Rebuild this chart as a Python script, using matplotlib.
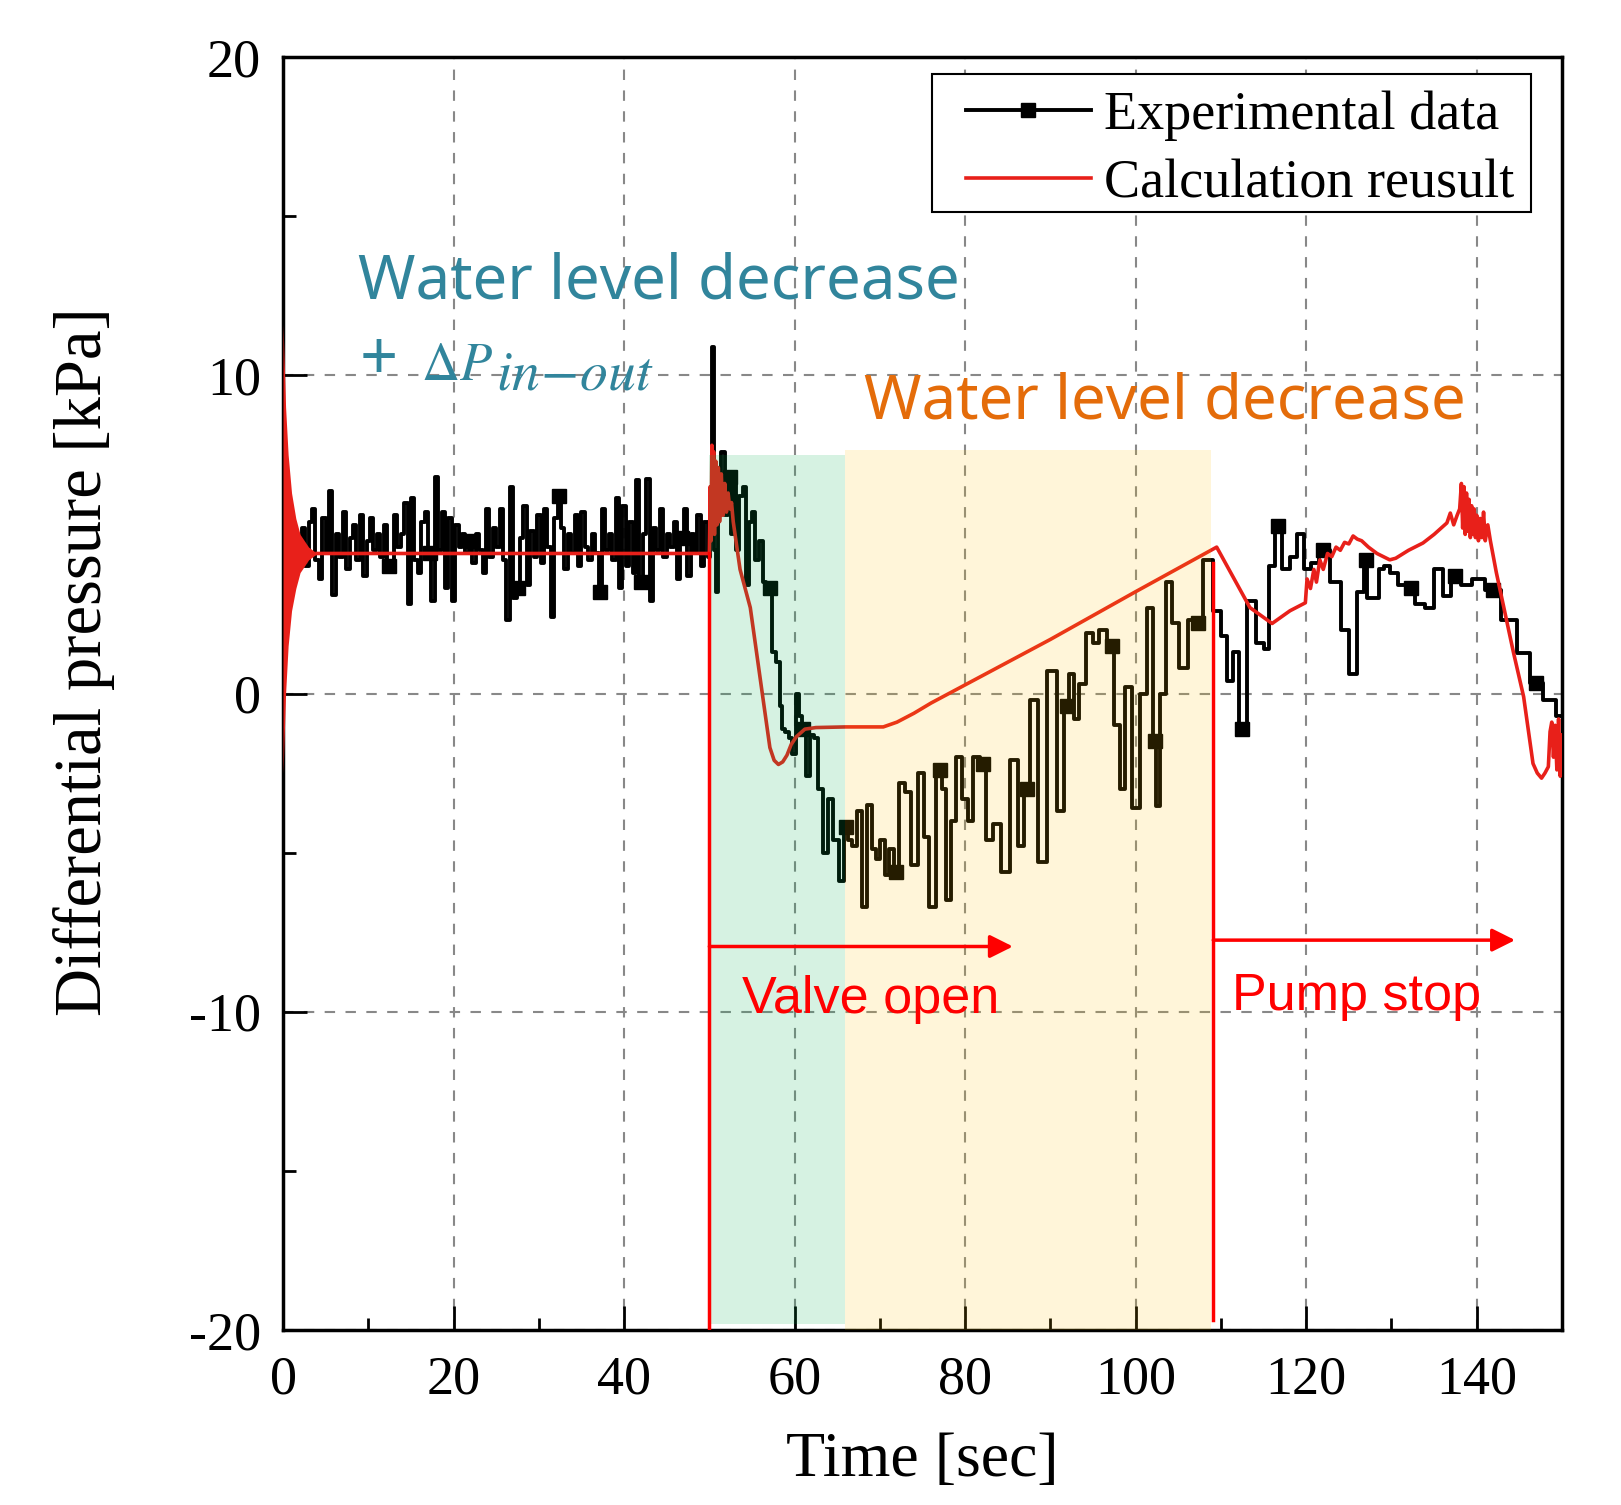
import numpy as np
import matplotlib
matplotlib.use('Agg')
import matplotlib.pyplot as plt
from matplotlib.patches import Rectangle
from matplotlib.ticker import MultipleLocator

# experimental data, noisy part before the valve opens (one sample every 0.4 s from t = 2 s)
exp_noise_start = 2.0
exp_noise_step = 0.4
exp_noise = [4.6, 5.2, 4.0, 5.4, 5.8, 4.2, 3.6, 5.5, 4.4, 6.35,
             3.1, 5.0, 4.3, 5.7, 3.9, 4.9, 5.3, 4.2, 5.6, 3.7,
             4.8, 5.5, 4.5, 5.0, 4.3, 5.3, 4.0, 4.1, 5.6, 4.6,
             5.0, 6.0, 2.8, 6.15, 4.2, 3.8, 5.4, 5.7, 4.4, 2.9,
             6.8, 4.5, 5.7, 3.3, 5.5, 2.9, 5.3, 4.6, 5.0, 4.4,
             4.8, 4.1, 5.0, 4.5, 3.8, 5.8, 4.3, 5.2, 4.6, 5.8,
             4.2, 2.3, 6.5, 3.0, 3.3, 4.9, 5.9, 3.4, 5.1, 4.3,
             5.6, 4.1, 5.8, 4.6, 2.4, 5.5, 6.2, 5.2, 3.9, 5.0,
             4.4, 5.6, 4.0, 5.7, 4.6, 4.2, 5.0, 4.4, 3.2, 5.8,
             4.5, 5.0, 4.2, 6.15, 3.3, 5.9, 4.0, 5.4, 3.8, 6.7,
             3.5, 5.0, 6.75, 2.9, 5.2, 4.5, 5.8, 4.3, 5.0, 4.6,
             5.4, 3.6, 4.9, 5.8, 3.7, 5.0, 4.4, 5.6, 4.0, 5.4,
             4.3]

# experimental data after the valve opens
exp_t = [50.2, 50.5, 50.7, 50.9, 51.2, 51.6, 52.0, 52.4, 52.7, 53.0,
         53.3, 53.7, 54.2, 54.5, 54.8, 55.2, 55.6, 56.1, 56.4, 56.8,
         57.1, 57.5, 58.1, 58.4, 58.7, 59.1, 59.5, 60.0, 60.4, 60.7,
         61.0, 61.6, 62.0, 62.6, 63.0, 63.6, 64.2, 64.8, 65.5, 66.0,
         66.5, 67.0, 67.6, 68.1, 68.8, 69.3, 69.8, 70.3, 70.8, 71.3,
         71.9, 72.5, 73.3, 74.1, 74.9, 75.5, 76.1, 77.0, 77.5, 78.0,
         78.6, 79.2, 80.0, 80.6, 81.3, 82.1, 82.9, 83.7, 84.7, 85.8,
         86.6, 87.2, 88.1, 89.0, 90.3, 91.3, 91.9, 92.5, 93.1, 93.7,
         94.6, 95.3, 96.0, 97.2, 97.8, 98.5, 99.1, 100.1, 100.9, 101.7,
         102.3, 102.5, 103.2, 104.0, 104.6, 105.6, 106.6, 107.3, 108.5, 109.7,
         110.4, 111.1, 111.8, 112.5, 113.6, 114.6, 115.4, 115.9, 116.7, 117.7,
         118.5, 119.3, 120.1, 121.0, 122.0, 123.6, 124.5, 125.5, 126.5, 127.0,
         127.3, 128.3, 128.8, 129.4, 130.2, 131.4, 132.3, 133.3, 134.5, 135.5,
         136.5, 137.5, 138.8, 140.0, 141.9, 143.9, 145.5, 147.0, 148.6, 150.0]
exp_p = [5.5, 10.9, 4.5, 3.2, 6.0, 7.6, 5.6, 6.8, 5.0, 6.6,
         4.5, 6.2, 6.5, 3.4, 5.4, 5.7, 4.2, 4.8, 3.5, 3.4,
         3.3, 1.3, 1.0, -0.4, -1.1, -1.2, -1.4, -1.9, 0.0, -0.7,
         -1.1, -2.6, -1.3, -1.4, -3.0, -5.0, -3.3, -4.6, -5.9, -4.2,
         -4.6, -4.8, -3.7, -6.7, -3.5, -4.9, -5.2, -4.6, -5.7, -4.9,
         -5.6, -2.8, -3.1, -5.4, -2.5, -4.5, -6.7, -2.4, -3.0, -6.5,
         -4.0, -2.0, -3.3, -4.0, -2.0, -2.2, -4.6, -4.1, -5.6, -2.1,
         -4.8, -3.0, -0.2, -5.3, 0.7, -3.7, -0.4, 0.6, -0.8, 0.3,
         1.9, 1.6, 2.0, 1.5, -1.0, -3.0, 0.2, -3.6, 0.0, 2.7,
         -1.5, -3.55, 0.0, 3.5, 2.2, 0.8, 2.3, 2.2, 4.2, 2.6,
         1.8, 0.4, 1.3, -1.1, 2.9, 1.6, 1.4, 4.0, 5.25, 3.9,
         4.3, 5.0, 3.9, 4.1, 4.5, 3.5, 2.0, 0.6, 3.2, 4.2,
         3.0, 3.0, 3.9, 4.0, 3.8, 3.4, 3.3, 2.8, 2.7, 3.9,
         3.05, 3.7, 3.4, 3.6, 3.26, 2.3, 1.27, 0.33, -0.2, -0.72]
exp_marker_t = [12.4, 17.2, 22.0, 27.6, 32.4, 37.2, 42.0, 46.8, 52.4, 57.1,
                61.0, 66.0, 71.9, 77.0, 82.1, 87.2, 91.9, 97.2, 102.3, 107.3,
                112.5, 116.7, 122.0, 127.0, 132.3, 137.5, 141.9, 147.0]

# calculation: start-up transient (upper / lower envelope of the oscillation)
calc_start_t = [0.0, 0.3, 0.6, 1.0, 1.5, 2.0, 2.5, 3.0, 3.5, 4.0]
calc_start_hi = [11.6, 9.0, 7.5, 6.3, 5.5, 5.0, 4.8, 4.6, 4.5, 4.4]
calc_start_lo = [-2.5, 0.0, 1.5, 2.6, 3.3, 3.8, 4.0, 4.2, 4.3, 4.4]

calc_t = [4.0, 50.0, 50.1, 50.2, 50.3, 50.4, 50.5, 50.6, 50.75, 50.9,
          51.05, 51.2, 51.4, 51.6, 51.8, 52.0, 52.2, 52.4, 52.6, 52.8,
          53.6, 54.8, 56.0, 57.1, 57.6, 58.1, 58.6, 59.1, 59.6, 60.2,
          61.2, 62.5, 66.0, 70.4, 72.0, 74.0, 76.0, 80.2, 90.0, 100.0,
          109.5, 113.4, 116.0, 118.1, 119.9, 120.1, 120.5, 120.9, 121.2, 121.6,
          122.0, 122.5, 123.0, 123.5, 124.0, 124.5, 125.0, 125.5, 126.0, 126.5,
          127.3, 128.3, 129.8, 130.5, 132.0, 133.7, 135.0, 136.5, 136.9, 137.3,
          137.7, 138.0, 138.2, 138.35, 138.5, 138.65, 138.8, 138.95, 139.1, 139.25,
          139.4, 139.55, 139.7, 139.85, 140.0, 140.2, 140.4, 140.6, 140.8, 141.0,
          141.3, 141.6, 142.3, 143.1, 144.3, 145.5, 146.6, 147.1, 147.6, 148.0,
          148.4, 148.6, 148.8, 149.0, 149.2, 149.4, 149.6, 149.8, 150.0]
calc_p = [4.4, 4.4, 6.5, 4.8, 7.8, 5.2, 7.6, 5.0, 7.3, 5.3,
          7.1, 5.4, 6.9, 5.6, 6.6, 5.7, 6.3, 5.8, 6.0, 5.4,
          3.9, 2.7, 0.4, -1.7, -2.1, -2.23, -2.15, -1.94, -1.6, -1.36,
          -1.12, -1.07, -1.05, -1.05, -0.9, -0.62, -0.3, 0.3, 1.7, 3.2,
          4.6, 2.7, 2.2, 2.6, 2.85, 3.6, 3.3, 3.9, 3.5, 4.2,
          3.9, 4.4, 4.3, 4.6, 4.5, 4.75, 4.7, 4.95, 4.85, 4.8,
          4.6, 4.4, 4.2, 4.25, 4.5, 4.73, 5.0, 5.36, 5.67, 5.3,
          5.6, 5.8, 6.6, 5.2, 6.5, 5.0, 6.3, 5.1, 6.1, 4.9,
          5.9, 5.0, 5.8, 4.9, 5.6, 4.8, 5.5, 4.9, 5.7, 4.8,
          5.3, 4.8, 3.8, 2.8, 1.3, -0.1, -2.2, -2.5, -2.66, -2.5,
          -2.3, -1.2, -0.9, -2.0, -1.0, -2.4, -0.8, -2.6, -1.3]

plt.rcParams['font.family'] = ['Liberation Serif', 'DejaVu Serif']
plt.rcParams['mathtext.fontset'] = 'stix'
plt.rcParams['axes.unicode_minus'] = False

teal = '#31859C'
orange = '#E46C0A'
calc_red = '#E8201A'

fig = plt.figure(figsize=(16.21, 15.05), dpi=100)
ax = fig.add_axes([0.1746, 0.1163, 0.789, 0.8458])

noise_t = exp_noise_start + exp_noise_step * np.arange(len(exp_noise))
t_all = np.concatenate([noise_t, exp_t])
p_all = np.concatenate([exp_noise, exp_p])
marker_idx = [int(np.argmin(np.abs(t_all - m))) for m in exp_marker_t]

ax.plot(t_all, p_all, color='black', lw=2.8, drawstyle='steps-mid',
        marker='s', markersize=10, markevery=marker_idx, zorder=2,
        label='Experimental data')
ax.fill_between(calc_start_t, calc_start_lo, calc_start_hi, color=calc_red, lw=0, zorder=3)
ax.plot(calc_t, calc_p, color=calc_red, lw=2.6, zorder=3, label='Calculation reusult')

# shaded phases (semi transparent, on top like the original)
ax.add_patch(Rectangle((50, -19.8), 15.9, 27.3, facecolor='#00B050', alpha=0.16, lw=0, zorder=4))
ax.add_patch(Rectangle((65.9, -20), 42.9, 27.64, facecolor='#FFC000', alpha=0.15, lw=0, zorder=4))

# event markers
ax.plot([50, 50], [-20, 4.4], color='red', lw=2.5, zorder=5)
ax.plot([109.1, 109.1], [-19.7, 4.1], color='red', lw=2.5, zorder=5)
arrow = dict(arrowstyle='-|>', color='red', lw=2.5, mutation_scale=35, shrinkA=0, shrinkB=0)
ax.annotate('', xy=(85.6, -7.95), xytext=(50, -7.95), arrowprops=arrow, zorder=6)
ax.annotate('', xy=(144.5, -7.75), xytext=(109.1, -7.75), arrowprops=arrow, zorder=6)

ax.text(53.8, -10.05, 'Valve open', color='red', fontsize=37.5, family='Liberation Sans', va='baseline', zorder=6)
ax.text(111.3, -9.95, 'Pump stop', color='red', fontsize=37.5, family='Liberation Sans', va='baseline', zorder=6)
ax.text(8.8, 12.4, 'Water level decrease', color=teal, fontsize=44.5, family='Noto Sans', va='baseline', zorder=6)
ax.text(9.0, 9.85, '+', color=teal, fontsize=48, family='Noto Sans', va='baseline', zorder=6)
ax.text(16.2, 9.85, r'$\Delta P$', color=teal, fontsize=38, va='baseline', zorder=6)
ax.text(25.0, 9.55, r'$in\!-\!out$', color=teal, fontsize=40, va='baseline', zorder=6)
ax.text(68.1, 8.64, 'Water level decrease', color=orange, fontsize=44.5, family='Noto Sans', va='baseline', zorder=6)

ax.set_xlim(0, 150)
ax.set_ylim(-20, 20)
ax.xaxis.set_major_locator(MultipleLocator(20))
ax.xaxis.set_minor_locator(MultipleLocator(10))
ax.yaxis.set_major_locator(MultipleLocator(10))
ax.yaxis.set_minor_locator(MultipleLocator(5))
ax.tick_params(which='both', direction='in', width=2, top=False, right=False)
ax.tick_params(which='major', length=17)
ax.tick_params(which='minor', length=9)
ax.tick_params(axis='x', labelsize=39, pad=18)
ax.tick_params(axis='y', labelsize=39, pad=16)
ax.grid(True, which='major', color='#888888', ls=(0, (5, 5)), lw=1.5)
ax.set_axisbelow(True)
for s in ax.spines.values():
    s.set_linewidth(2.5)

ax.set_xlabel('Time [sec]', fontsize=46)
ax.xaxis.set_label_coords(0.5, -0.08)
ax.set_ylabel('Differential pressure [kPa]', fontsize=48)
ax.yaxis.set_label_coords(-0.131, 0.525)

# legend: frame drawn separately to get the wide left padding of the original
ax.add_patch(Rectangle((0.5074, 0.878), 0.4684, 0.109, transform=ax.transAxes,
                       facecolor='white', edgecolor='black', lw=1.5, zorder=7))
leg = ax.legend(loc='upper left', bbox_to_anchor=(0.534, 0.974), fontsize=39,
                frameon=False, borderaxespad=0, borderpad=0, labelspacing=0.33,
                handlelength=2.3, handletextpad=0.25)
leg.set_zorder(8)

fig.savefig('out.png', dpi=100)
